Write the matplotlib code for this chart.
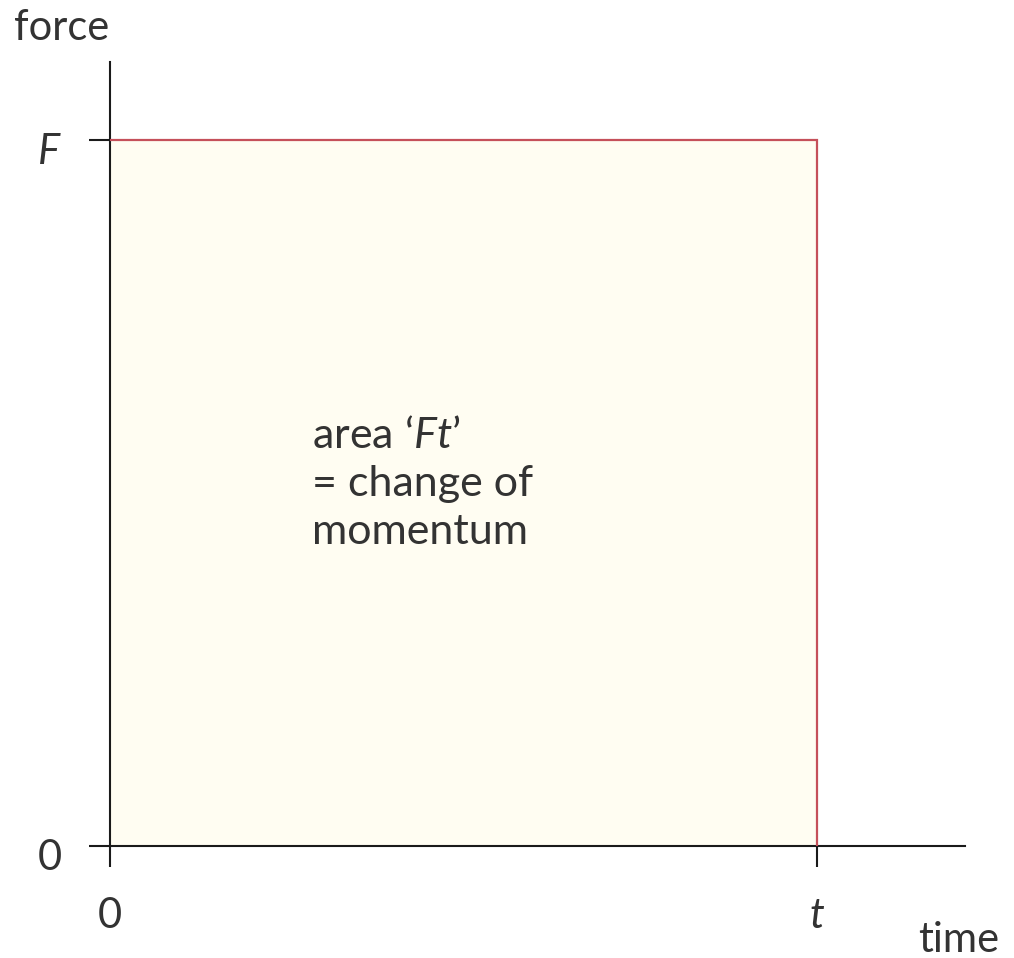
import matplotlib
matplotlib.use("Agg")
import matplotlib.pyplot as plt
from matplotlib.transforms import ScaledTranslation

# Data
t_end = 1.0          # time t
F_val = 1.0          # force F
time_pts = [0.0, t_end, t_end]
force_pts = [F_val, F_val, 0.0]
xtick_vals = [0.0, t_end]
xtick_labels = ["0", "$t$"]
ytick_vals = [0.0, F_val]
ytick_labels = ["0", "$F$"]
area_text = "area \u2018$Ft$\u2019\n= change of\nmomentum"

plt.rcParams['font.family'] = ['Lato', 'DejaVu Sans']
plt.rcParams['mathtext.fontset'] = 'custom'
plt.rcParams['mathtext.it'] = 'Lato:italic'
plt.rcParams['mathtext.rm'] = 'Lato'

W, H = 1014, 958
fig = plt.figure(figsize=(W / 100, H / 100), dpi=100)

# pixel geometry
x0_px, xt_px, xend_px = 110, 817, 965
y0_px, yF_px, ytop_px = 846, 140, 62
ax = fig.add_axes([x0_px / W, (H - y0_px) / H, (xend_px - x0_px) / W, (y0_px - ytop_px) / H])
ax.set_xlim(0, (xend_px - x0_px) / (xt_px - x0_px) * t_end)
ax.set_ylim(0, (y0_px - ytop_px) / (y0_px - yF_px) * F_val)

ax.fill_between([0, t_end], 0, F_val, color='#fffdf2', lw=0, zorder=1)
ax.plot(time_pts, force_pts, color='#c5505a', lw=1.6, zorder=3, solid_joinstyle='miter')

for s in ['top', 'right']:
    ax.spines[s].set_visible(False)
for s in ['left', 'bottom']:
    ax.spines[s].set_color('#1a1a1a')
    ax.spines[s].set_linewidth(1.5)
    ax.spines[s].set_zorder(2)

ax.set_xticks(xtick_vals)
ax.set_xticklabels(xtick_labels)
ax.set_yticks(ytick_vals)
ax.set_yticklabels(ytick_labels)
ax.tick_params(axis='both', direction='out', length=15, width=1.5, color='#1a1a1a',
               labelsize=30, labelcolor='#333333')
ax.tick_params(axis='x', pad=22)
ax.tick_params(axis='y', pad=20)
for lab in ax.get_yticklabels():
    lab.set_transform(lab.get_transform() + ScaledTranslation(0, -8 / 100, fig.dpi_scale_trans))
ax.patch.set_alpha(0)

fig.text(62 / W, 1 - 28 / H, "force", fontsize=30, color='#333333', ha='center', va='center')
fig.text(959 / W, 1 - 940 / H, "time", fontsize=30, color='#333333', ha='center', va='center')

ax.text((312 - x0_px) / (xt_px - x0_px) * t_end,
        (y0_px - 484) / (y0_px - yF_px) * F_val, area_text, fontsize=31, color='#333333',
        ha='left', va='center', linespacing=1.33)

fig.savefig("out.png", dpi=100, facecolor='white')
